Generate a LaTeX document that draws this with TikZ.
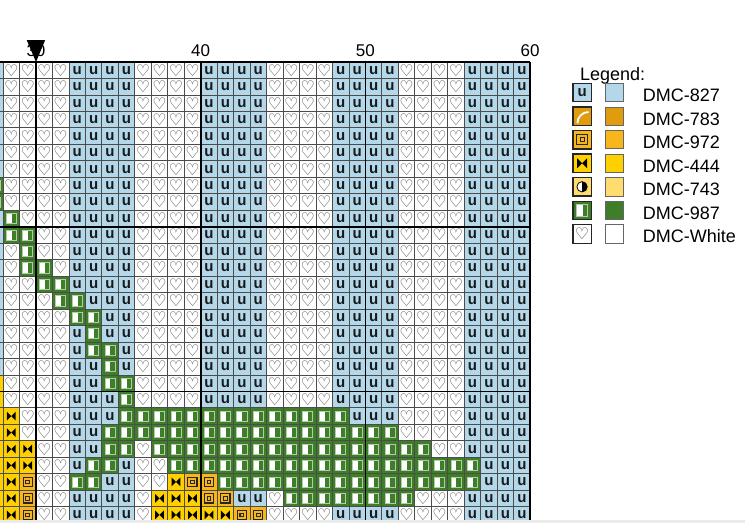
\documentclass[tikz,border=0pt]{standalone}
\usepackage{fontspec}
\setmainfont{Liberation Sans}
\newfontfamily\symfont{DejaVu Sans}
\definecolor{dmcblue}{RGB}{180,215,233}
\definecolor{dmcgreen}{RGB}{62,126,40}
\definecolor{dmcfourfour}{RGB}{255,208,0}
\definecolor{dmcninesev}{RGB}{246,182,28}
\definecolor{dmcseveneight}{RGB}{222,156,14}
\definecolor{dmcsevenfour}{RGB}{255,220,110}
\tikzset{
  gridline/.style={draw=black!70, line width=0.8pt},
  tenline/.style={draw=black, line width=1.7pt},
  numlabel/.style={font=\fontsize{17}{17}\selectfont, anchor=base},
  legtext/.style={font=\fontsize{18}{18}\selectfont, anchor=base west},
  pics/ucell/.style={code={
    \fill[dmcblue] (0,0) rectangle (16.47,16.47);
    \node[text=black!90, font=\bfseries\fontsize{15}{15}\selectfont, inner sep=0pt] at (8.2,8.3) {u};
  }},
  pics/hcell/.style={code={
    \fill[white] (0,0) rectangle (16.47,16.47);
    \node[text=black!75, font=\symfont\fontsize{16}{16}\selectfont, inner sep=0pt] at (8.2,8.4) {♡};
  }},
  pics/gcell/.style={code={
    \fill[dmcgreen] (0,0) rectangle (16.47,16.47);
    \fill[white] (3.2,3.2) rectangle (8.6,13.3);
    \draw[dmcgreen!40!white, line width=0.7pt] (3.2,3.2) rectangle (13.3,13.3);
  }},
  pics/ycell/.style={code={
    \fill[dmcfourfour] (0,0) rectangle (16.47,16.47);
    \fill[black] (3.8,3.8) -- (8.2,8.2) -- (3.8,12.6) -- cycle;
    \fill[black] (12.6,3.8) -- (8.2,8.2) -- (12.6,12.6) -- cycle;
  }},
  pics/qcell/.style={code={
    \fill[dmcninesev] (0,0) rectangle (16.47,16.47);
    \draw[black!85, line width=1.1pt] (3.6,3.6) rectangle (12.8,12.8);
    \draw[black!85, line width=1.1pt] (6.4,6.4) rectangle (10,10);
  }},
  pics/arccell/.style={code={
    \fill[dmcseveneight] (0,0) rectangle (16.47,16.47);
    \draw[white, line width=1.8pt] (4,14.5) arc[start angle=180, end angle=270, radius=10];
  }},
  pics/halfcell/.style={code={
    \fill[dmcsevenfour] (0,0) rectangle (16.47,16.47);
    \fill[white] (8.2,8.2) circle (4.6);
    \fill[black] (8.2,3.6) arc[start angle=-90, end angle=90, radius=4.6] -- cycle;
    \draw[black, line width=0.8pt] (8.2,8.2) circle (4.6);
  }}
}
\begin{document}
\begin{tikzpicture}[x=1pt,y=-1pt]
\useasboundingbox (0,0) rectangle (745,523);
\fill[white] (0,0) rectangle (745,523);

\begin{scope}
\clip (0,0) rectangle (745,520);
% column 27, only its edge shows
\fill[dmcblue] (-13.41,62) rectangle (2.94,520);
% stripes of the chart
\foreach \c in {28,...,59}{
  \pgfmathtruncatemacro{\band}{mod(floor((\c-24)/4),2)}
  \pgfmathsetmacro{\cx}{36+(\c-30)*16.47}
  \foreach \r in {0,...,27}{
    \ifnum\band=0
      \pic at (\cx,{62+\r*16.47}) {ucell};
    \else
      \pic at (\cx,{62+\r*16.47}) {hcell};
    \fi
  }
}
% green stitches, row/first/last column
\foreach \r/\a/\b in {7/27/27, 8/27/27, 9/28/28, 10/28/29, 11/29/29, 12/29/30,
    13/30/31, 14/31/32, 15/32/33, 16/33/33, 17/33/34, 18/34/34, 19/34/35,
    20/35/35, 21/35/48, 22/34/51, 23/34/35, 23/37/53, 24/33/34, 24/38/56,
    25/32/33, 25/41/56, 26/45/52}{
  \foreach \c in {\a,...,\b}
    \pic at ({36+(\c-30)*16.47},{62+\r*16.47}) {gcell};
}
% DMC-444
\foreach \r/\a/\b in {19/27/27, 20/27/27, 21/27/28, 22/27/28, 23/27/29, 24/27/29,
    25/27/28, 25/38/38, 26/27/28, 26/37/39, 27/27/28, 27/37/41}{
  \foreach \c in {\a,...,\b}
    \pic at ({36+(\c-30)*16.47},{62+\r*16.47}) {ycell};
}
% DMC-972
\foreach \r/\a/\b in {25/29/29, 25/39/40, 26/29/29, 26/40/41, 27/29/29, 27/42/43}{
  \foreach \c in {\a,...,\b}
    \pic at ({36+(\c-30)*16.47},{62+\r*16.47}) {qcell};
}
% grid
\foreach \c in {27,...,60}{
  \pgfmathsetmacro{\cx}{36+(\c-30)*16.47}
  \draw[gridline] (\cx,62) -- (\cx,520);
}
\foreach \r in {0,...,28}{
  \pgfmathsetmacro{\ry}{62+\r*16.47}
  \draw[gridline] (0,\ry) -- (530.1,\ry);
}
\foreach \r in {0,10,20}
  \draw[tenline] (0,{62+\r*16.47}) -- (530.1,{62+\r*16.47});
\foreach \c in {30,40,50,60}
  \draw[tenline] ({36+(\c-30)*16.47},62) -- ({36+(\c-30)*16.47},520);
\end{scope}
\fill[black!8] (0,520) rectangle (745,523);

% column numbers and centre mark
\foreach \n in {30,40,50,60}
  \node[numlabel] (lbl\n) at ({36+(\n-30)*16.47},56.5) {\n};
\fill[black] (26.7,40) -- (45.2,40) -- (36,62) -- cycle;

% legend
\node[legtext] (legend) at (576.5,80) {Legend:};
\pic[scale=1.12] at (572.9,83.4) {ucell};
\pic[scale=1.12] at (572.9,106.95) {arccell};
\pic[scale=1.12] at (572.9,130.5) {qcell};
\pic[scale=1.12] at (572.9,154.05) {ycell};
\pic[scale=1.12] at (572.9,177.6) {halfcell};
\pic[scale=1.12] at (572.9,201.15) {gcell};
\pic[scale=1.12] at (572.9,224.7) {hcell};
\foreach \col/\txt [count=\i from 0] in {dmcblue/827, dmcseveneight/783, dmcninesev/972,
    dmcfourfour/444, dmcsevenfour/743, dmcgreen/987, white/White}{
  \pgfmathsetmacro{\ty}{83.4+23.55*\i}
  \draw[black!85, line width=1.2pt] (572.9,\ty) rectangle (591.3,\ty+18.4);
  \filldraw[fill=\col, draw=black!60, line width=0.9pt] (605,\ty) rectangle (623.3,\ty+18.4);
  \node[legtext] (dmc\txt) at (639.3,\ty+18.2) {DMC-\txt};
}
\end{tikzpicture}
\end{document}
